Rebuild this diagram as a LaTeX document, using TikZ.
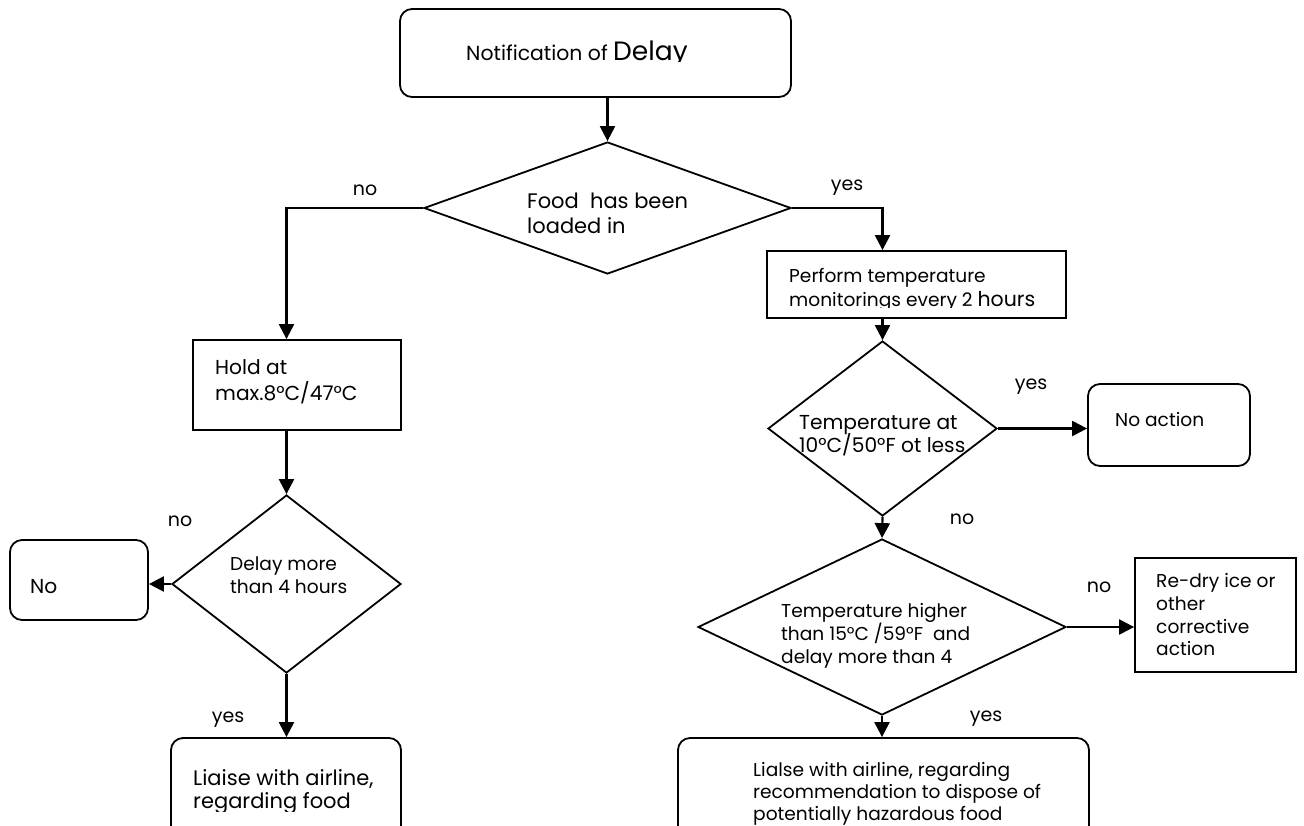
\documentclass[tikz,border=0pt]{standalone}
\usepackage{fontspec}
\setmainfont{Poppins}
\usetikzlibrary{arrows.meta,shapes.geometric}
\newcommand{\fsz}[1]{\fontsize{#1}{#1}\selectfont}
\begin{document}
\begin{tikzpicture}[x=1pt,y=-1pt,
  box/.style={draw,line width=1.8pt,inner sep=0pt,rectangle},
  rbox/.style={box,rounded corners=12pt},
  dia/.style={draw,line width=1.8pt,inner sep=0pt,diamond},
  arr/.style={line width=2.2pt,-{Triangle[length=15pt,width=15pt]}},
  txt/.style={inner sep=0pt,anchor=base west,font=\fsz{18.6}},
  txtm/.style={txt,font=\fsz{20.2}},
  txtl/.style={txt,font=\fsz{21}},
  lbl/.style={inner sep=0pt,anchor=base,font=\fsz{19}},
]
\useasboundingbox (0,0) rectangle (1304,825);
\clip (0,0) rectangle (1304,825);
\fill[white] (0,0) rectangle (1304,825);

% shapes
\node[rbox,minimum width=391pt,minimum height=88pt] (top) at (595.5,53) {};
\node[dia,minimum width=367pt,minimum height=132pt] (d1) at (607.5,208) {};
\node[box,minimum width=208pt,minimum height=90pt] (hold) at (297,385) {};
\node[dia,minimum width=229pt,minimum height=178pt] (d2) at (286.5,584) {};
\node[rbox,minimum width=138pt,minimum height=80pt] (nobox) at (79,580) {};
\node[rbox,minimum width=230pt,minimum height=130pt] (liaise) at (286,803) {};
\node[box,minimum width=299pt,minimum height=67pt] (perf) at (916.5,284.5) {};
\node[dia,minimum width=229pt,minimum height=175pt] (d3) at (882.5,428.5) {};
\node[rbox,minimum width=162pt,minimum height=82pt] (noact) at (1169,425) {};
\node[dia,minimum width=368pt,minimum height=176pt] (d4) at (882,627) {};
\node[box,minimum width=161pt,minimum height=114pt] (redry) at (1215.5,615) {};
\node[rbox,minimum width=411pt,minimum height=130pt] (lialse) at (883.5,803) {};

% connectors
\draw[arr] (d1.north |- top.south) -- (d1.north);
\draw[arr] (d1.west) -| (d2.north |- hold.north);
\draw[arr] (d1.east) -| (d3.north |- perf.north);
\draw[arr] (d2.north |- hold.south) -- (d2.north);
\draw[arr] (d2.west) -- (d2.west -| nobox.east);
\draw[arr] (d2.south) -- (d2.south |- liaise.north);
\draw[arr] (d3.north |- perf.south) -- (d3.north);
\draw[arr] (d3.east) -- (d3.east -| noact.west);
\draw[arr] (d3.south) -- (d4.north);
\draw[arr] (d4.east) -- (d4.east -| redry.west);
\draw[arr] (d4.south) -- (d4.south |- lialse.north);

% labels
\node[lbl] (l1) at (365,195) {no};
\node[lbl] (l2) at (847,190) {yes};
\node[lbl] (l3) at (180,526) {no};
\node[lbl] (l4) at (228,722) {yes};
\node[lbl] (l5) at (1031,389) {yes};
\node[lbl] (l6) at (962,524) {no};
\node[lbl] (l7) at (1099,592) {no};
\node[lbl] (l8) at (986,721) {yes};

% texts
\begin{scope}
\clip (0,0) rectangle (1304,61.5);
\node[txt] (t1) at (466,60) {\fsz{20.4}Notification of {\fsz{26.5}Delay}};
\end{scope}
\node[txtl] (t2a) at (527,208) {Food\ \ has been};
\node[txtl] (t2b) at (527,233) {loaded in};
\node[txtm] (t3a) at (215,374) {Hold at};
\node[txtm] (t3b) at (215,400) {max.8°C/47°C};
\node[txt] (t4a) at (230,570) {Delay more};
\node[txt] (t4b) at (230,593) {than 4 hours};
\node[txtm] (t5) at (30,593) {No};
\node[txtl] (t6a) at (193,785) {Liaise with airline,};
\begin{scope}
\clip (0,0) rectangle (1304,811);
\node[txtl] (t6b) at (193,808) {regarding food};
\end{scope}
\node[txt] (t7a) at (789,282) {Perform temperature};
\begin{scope}
\clip (0,0) rectangle (1304,307.5);
\node[txt] (t7b) at (789,306) {monitorings every 2 {\fsz{20.5}hours}};
\end{scope}
\node[txtm] (t8a) at (799,429) {Temperature at};
\node[txtm] (t8b) at (799,452) {10°C/50°F ot less};
\node[txt] (t9) at (1115,426) {No action};
\node[txt] (t10a) at (781,617) {Temperature higher};
\node[txt] (t10b) at (781,640) {than 15°C /59°F\ \ and};
\node[txt] (t10c) at (781,663) {delay more than 4};
\node[txt] (t11a) at (1156,587) {Re-dry ice or};
\node[txt] (t11b) at (1156,610) {other};
\node[txt] (t11c) at (1156,633) {corrective};
\node[txt] (t11d) at (1156,655) {action};
\node[txt] (t12a) at (753,776) {Lialse with airline, regarding};
\node[txt] (t12b) at (753,798) {recommendation to dispose of};
\node[txt] (t12c) at (753,820) {potentially hazardous food};
\end{tikzpicture}
\end{document}
